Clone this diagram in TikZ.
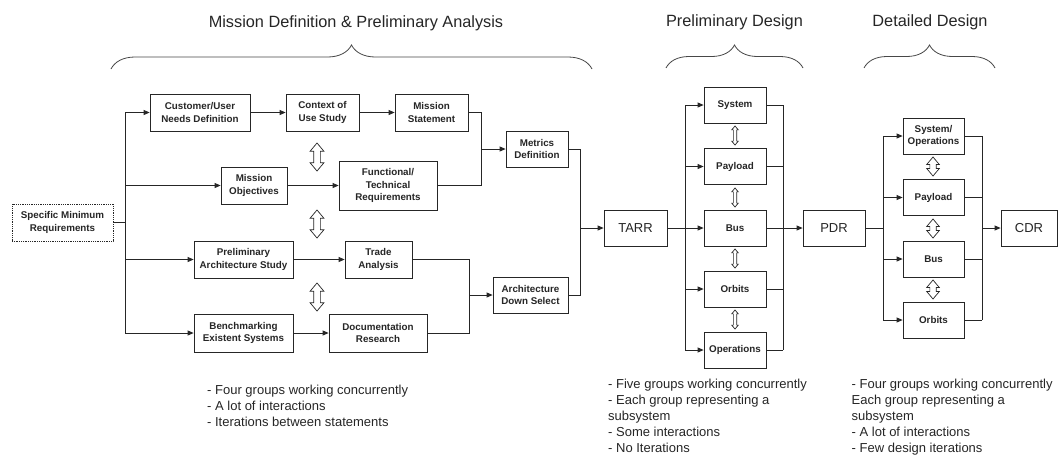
\documentclass[tikz,border=0pt]{standalone}
\usepackage{fontspec}
\setmainfont{Liberation Sans}
\usetikzlibrary{arrows.meta,shapes.arrows,decorations.pathreplacing,calc}

\definecolor{ink}{HTML}{262626}

\begin{document}
\begin{tikzpicture}[x=1pt,y=-1pt,
  box/.style={draw=ink, line width=0.8pt, fill=white, align=center, inner sep=1pt,
    font=\bfseries\fontsize{9.8}{12.2}\selectfont, text=ink},
  dotbox/.style={box, densely dotted},
  review/.style={draw=ink, line width=0.8pt, fill=white, align=center,
    font=\fontsize{13}{15}\selectfont, text=ink, minimum width=62pt, minimum height=36pt},
  line/.style={draw=ink, line width=0.8pt},
  flow/.style={draw=ink, line width=0.8pt, -{Triangle[length=6pt,width=5pt]}},
  dbl/.style={double arrow, draw=ink, line width=0.7pt, fill=white, rotate=90,
    inner xsep=0pt, double arrow tip angle=80},
  phase/.style={font=\fontsize{16.3}{19}\selectfont, text=ink, anchor=base},
  note/.style={font=\fontsize{13}{16}\selectfont, text=ink, align=left, anchor=base west, inner sep=0pt},
  curly/.style={draw=ink!85, line width=0.8pt, decorate, decoration={brace, amplitude=#1}},
]
\fill[white] (0,0) rectangle (1060,456);
\useasboundingbox (0,0) rectangle (1060,456);

% phase headings and braces
\node[phase] (ph1) at (356,27) {Mission Definition \& Preliminary Analysis};
\node[phase] (ph2) at (734.5,26) {Preliminary Design};
\node[phase] (ph3) at (930,26) {Detailed Design};
\draw[curly=24pt] (111,69) -- (592,69);
\draw[curly=23pt] (666,68) -- (803,68);
\draw[curly=23pt] (864,68) -- (995,68);

% mission definition & preliminary analysis
\node[dotbox, minimum width=101pt, minimum height=37pt] (smr) at (62.5,222.5) {Specific Minimum\\Requirements};
\node[box, minimum width=100pt, minimum height=37pt] (cust) at (200,112.5) {Customer/User\\Needs Definition};
\node[box, minimum width=73pt, minimum height=37pt] (ctx) at (322.5,112.5) {Context of\\Use Study};
\node[box, minimum width=73pt, minimum height=37pt] (mstmt) at (431.5,112.5) {Mission\\Statement};
\node[box, minimum width=66pt, minimum height=37pt] (mobj) at (254,185.5) {Mission\\Objectives};
\node[box, minimum width=98pt, minimum height=49pt] (func) at (388,185.5) {Functional/\\Technical\\Requirements};
\node[box, minimum width=62pt, minimum height=36pt] (metr) at (537,149) {Metrics\\Definition};
\node[box, minimum width=99pt, minimum height=37pt] (pas) at (243.5,259.5) {Preliminary\\Architecture Study};
\node[box, minimum width=67pt, minimum height=37pt] (trade) at (378.5,259.5) {Trade\\Analysis};
\node[box, minimum width=99pt, minimum height=38pt] (bench) at (243.5,333) {Benchmarking\\Existent Systems};
\node[box, minimum width=98pt, minimum height=38pt] (docr) at (378,333) {Documentation\\Research};
\node[box, minimum width=75pt, minimum height=36pt] (ads) at (530.5,295) {Architecture\\Down Select};

\node[dbl, minimum height=28pt, inner ysep=3pt, double arrow head extend=3.5pt] (ia1) at (317,157) {};
\node[dbl, minimum height=28pt, inner ysep=3pt, double arrow head extend=3.5pt] (ia2) at (317,224) {};
\node[dbl, minimum height=28pt, inner ysep=3pt, double arrow head extend=3.5pt] (ia3) at (317,297) {};

\coordinate (trT) at (125,112.5);
\coordinate (trB) at (125,333);
\coordinate (m1) at (481,0);
\coordinate (m2) at (469,0);
\coordinate (m3) at (580,0);

\draw[line] (smr.east) -- (smr.east -| trT);
\draw[line] (trT) -- (trB);
\draw[flow] (trT) -- (cust.west);
\draw[flow] (mobj.west -| trT) -- (mobj.west);
\draw[flow] (pas.west -| trT) -- (pas.west);
\draw[flow] (trB) -- (bench.west);

\draw[flow] (cust) -- (ctx);
\draw[flow] (ctx) -- (mstmt);
\draw[flow] (mobj) -- (func);
\draw[flow] (pas) -- (trade);
\draw[flow] (bench) -- (docr);

\draw[line] (mstmt.east) -- (mstmt.east -| m1) -- (func.east -| m1) -- (func.east);
\draw[flow] (metr.west -| m1) -- (metr.west);
\draw[line] (trade.east) -- (trade.east -| m2) -- (docr.east -| m2) -- (docr.east);
\draw[flow] (ads.west -| m2) -- (ads.west);

% TARR and preliminary design
\node[review, minimum width=63pt] (tarr) at (635.5,228) {TARR};
\draw[line] (metr.east) -- (metr.east -| m3) -- (ads.east -| m3) -- (ads.east);
\draw[flow] (tarr.west -| m3) -- (tarr.west);

\node[box, minimum width=62pt, minimum height=36pt] (psys) at (735,105) {System};
\node[box, minimum width=62pt, minimum height=36pt] (ppay) at (735,166.5) {Payload};
\node[box, minimum width=62pt, minimum height=36pt] (pbus) at (735,228) {Bus};
\node[box, minimum width=62pt, minimum height=36pt] (porb) at (735,289) {Orbits};
\node[box, minimum width=62pt, minimum height=36pt] (pops) at (735,350) {Operations};

\node[dbl, minimum height=19pt, inner ysep=1.3pt, double arrow head extend=1.6pt] (pa1) at (735,135.5) {};
\node[dbl, minimum height=19pt, inner ysep=1.3pt, double arrow head extend=1.6pt] (pa2) at (735,197.5) {};
\node[dbl, minimum height=19pt, inner ysep=1.3pt, double arrow head extend=1.6pt] (pa3) at (735,258.5) {};
\node[dbl, minimum height=19pt, inner ysep=1.3pt, double arrow head extend=1.6pt] (pa4) at (735,319.5) {};

\coordinate (p1) at (685,0);
\coordinate (p2) at (783,0);
\draw[line] (tarr.east) -- (tarr.east -| p1);
\draw[line] (psys.west -| p1) -- (pops.west -| p1);
\foreach \b in {psys,ppay,pbus,porb,pops}{
  \draw[flow] (\b.west -| p1) -- (\b.west);
  \draw[line] (\b.east) -- (\b.east -| p2);
}
\draw[line] (psys.east -| p2) -- (pops.east -| p2);

% PDR and detailed design
\node[review] (pdr) at (834,228) {PDR};
\draw[flow] (pdr.west -| p2) -- (pdr.west);

\node[box, minimum width=61pt, minimum height=36pt] (dsys) at (933.5,136) {System/\\Operations};
\node[box, minimum width=61pt, minimum height=36pt] (dpay) at (933.5,197.5) {Payload};
\node[box, minimum width=61pt, minimum height=36pt] (dbus) at (933.5,259) {Bus};
\node[box, minimum width=61pt, minimum height=36pt] (dorb) at (933.5,320) {Orbits};

\node[dbl, minimum height=19pt, inner ysep=2.8pt, double arrow head extend=3.2pt] (da1) at (933,166.5) {};
\node[dbl, minimum height=19pt, inner ysep=2.8pt, double arrow head extend=3.2pt] (da2) at (933,228.5) {};
\node[dbl, minimum height=19pt, inner ysep=2.8pt, double arrow head extend=3.2pt] (da3) at (933,289.5) {};

\coordinate (q1) at (883,0);
\coordinate (q2) at (982,0);
\draw[line] (pdr.east) -- (pdr.east -| q1);
\draw[line] (dsys.west -| q1) -- (dorb.west -| q1);
\foreach \b in {dsys,dpay,dbus,dorb}{
  \draw[flow] (\b.west -| q1) -- (\b.west);
  \draw[line] (\b.east) -- (\b.east -| q2);
}
\draw[line] (dsys.east -| q2) -- (dorb.east -| q2);

\node[review, minimum width=56pt] (cdr) at (1029,228) {CDR};
\draw[flow] (cdr.west -| q2) -- (cdr.west);

% remarks under each phase (anchored on the baseline of the last line)
\node[note] (n1) at (207,426) {- Four groups working concurrently\\- A lot of interactions\\- Iterations between statements};
\node[note] (n2) at (608,452) {- Five groups working concurrently\\- Each group representing a\\subsystem\\- Some interactions\\- No Iterations};
\node[note] (n3) at (851.5,452) {- Four groups working concurrently\\Each group representing a\\subsystem\\- A lot of interactions\\- Few design iterations};
\end{tikzpicture}
\end{document}
